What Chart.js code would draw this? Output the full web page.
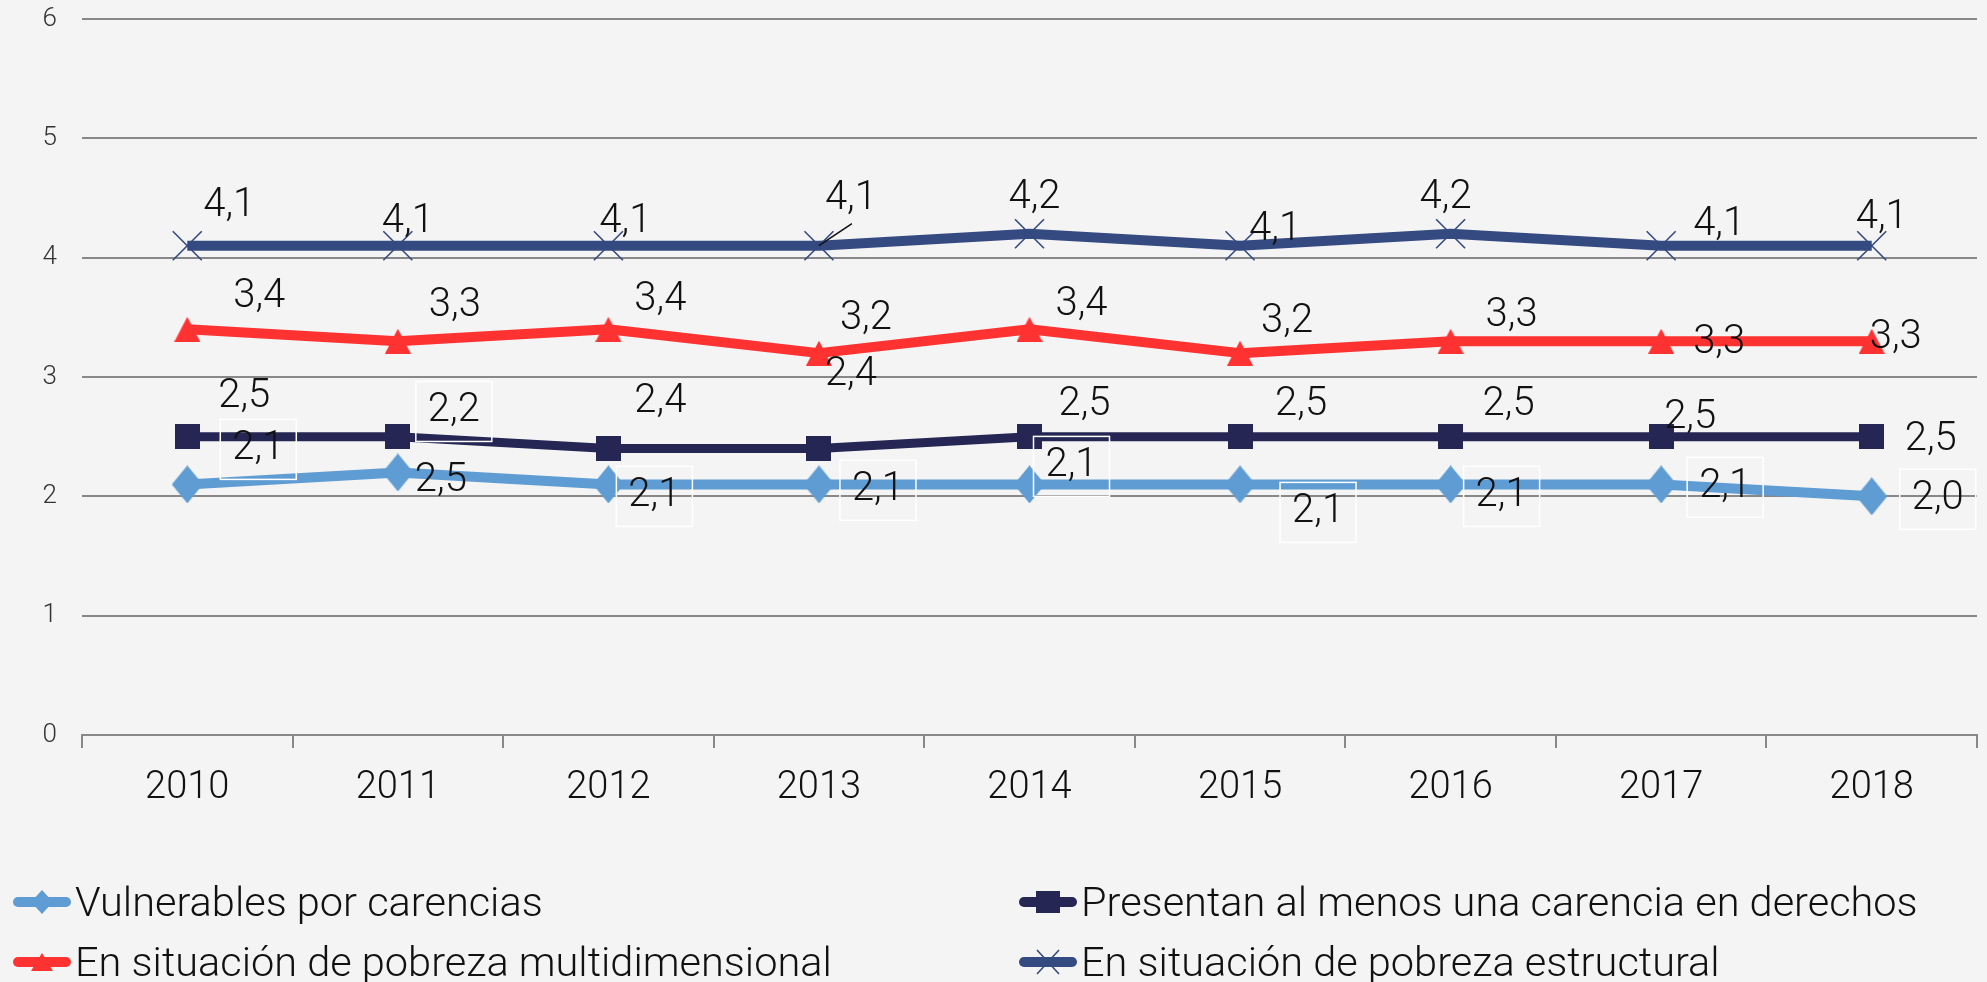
<!DOCTYPE html>
<html>
<head>
<meta charset="utf-8">
<script src="https://cdn.jsdelivr.net/npm/chart.js@4.4.1/dist/chart.umd.min.js"></script>
<style>
  html, body { margin: 0; padding: 0; background: #f4f4f4; }
  #wrap { position: relative; width: 1987px; height: 982px; }
</style>
</head>
<body>
<div id="wrap"><canvas id="chart"></canvas></div>
<script>
const years = ["2010", "2011", "2012", "2013", "2014", "2015", "2016", "2017", "2018"];
const vulnerables = [2.1, 2.2, 2.1, 2.1, 2.1, 2.1, 2.1, 2.1, 2.0];
const carenciaDerechos = [2.5, 2.5, 2.4, 2.4, 2.5, 2.5, 2.5, 2.5, 2.5];
const pobrezaMulti = [3.4, 3.3, 3.4, 3.2, 3.4, 3.2, 3.3, 3.3, 3.3];
const pobrezaEstructural = [4.1, 4.1, 4.1, 4.1, 4.2, 4.1, 4.2, 4.1, 4.1];
const seriesNames = [
  "Vulnerables por carencias",
  "Presentan al menos una carencia en derechos",
  "En situación de pobreza multidimensional",
  "En situación de pobreza estructural",
];

// where each data label sits relative to its point (px), as placed in the original
const labelShift = [
  [[71, -35], [56, -61], [46, 12], [59, 6], [42, -18], [78, 28], [51, 12], [64, 3], [66, 3]],
  [[57, -40], [43, 44], [52, -47], [32, -74], [55, -32], [61, -32], [58, -32], [29, -19], [59, 3]],
  [[72, -32], [57, -35], [52, -29], [47, -34], [52, -24], [47, -31], [61, -25], [58, 2], [24, -3]],
  [[42, -40], [10, -24], [17, -24], [32, -47], [5, -36], [35, -16], [-5, -36], [58, -21], [10, -28]],
];

const FONT = "Roboto, 'Liberation Sans', sans-serif";
const colors = ["#5e9cd3", "#252653", "#ff3232", "#344a80"];

function shape(w, h, color, draw) {
  const c = document.createElement("canvas");
  c.width = w; c.height = h;
  const g = c.getContext("2d");
  g.fillStyle = color;
  g.beginPath(); draw(g, w, h); g.closePath(); g.fill();
  return c;
}
const diamond = (w, h, col) => shape(w, h, col, (g, w, h) => { g.moveTo(w / 2, 0); g.lineTo(w, h / 2); g.lineTo(w / 2, h); g.lineTo(0, h / 2); });
const triangle = (w, h, col) => shape(w, h, col, (g, w, h) => { g.moveTo(w / 2, 0); g.lineTo(w, h); g.lineTo(0, h); });
const square = (w, h, col) => shape(w, h, col, (g, w, h) => { g.rect(0, 0, w, h); });

const fmt = (v) => v.toFixed(1).replace(".", ",");

const dataLabels = {
  id: "dataLabels",
  afterDatasetsDraw(chart) {
    const ctx = chart.ctx;
    ctx.save();
    ctx.font = "300 40px " + FONT;
    ctx.textAlign = "center";
    ctx.textBaseline = "middle";
    chart.data.datasets.forEach((ds, di) => {
      chart.getDatasetMeta(di).data.forEach((pt, i) => {
        const [dx, dy] = labelShift[di][i];
        const x = pt.x + dx, y = pt.y + dy;
        if (di === 0) {
          ctx.strokeStyle = "#ffffff";
          ctx.lineWidth = 1.5;
          ctx.strokeRect(x - 38, y - 30, 76, 60);
        }
        ctx.fillStyle = "#111111";
        ctx.fillText(fmt(ds.data[i]), x, y);
      });
    });
    // leader line for the 2013 structural label
    const p = chart.getDatasetMeta(3).data[3];
    const [lx, ly] = labelShift[3][3];
    ctx.strokeStyle = "#111111";
    ctx.lineWidth = 1.5;
    ctx.beginPath();
    ctx.moveTo(p.x, p.y);
    ctx.lineTo(p.x + lx + 1, p.y + ly + 25);
    ctx.stroke();
    ctx.restore();
  },
};

// legend drawn as a 2x2 grid like the original
const gridLegend = {
  id: "gridLegend",
  afterDraw(chart) {
    const ctx = chart.ctx;
    const cols = [13, 1019], rows = [902, 962];
    const marks = [diamond(22, 24, colors[0]), square(24, 22, colors[1]), triangle(22, 18, colors[2]), null];
    ctx.save();
    chart.data.datasets.forEach((ds, i) => {
      const x = cols[i % 2], y = rows[Math.floor(i / 2)];
      ctx.strokeStyle = colors[i];
      ctx.lineWidth = 10;
      ctx.lineCap = "round";
      ctx.beginPath();
      ctx.moveTo(x + 5, y); ctx.lineTo(x + 53, y);
      ctx.stroke();
      const mx = x + 29;
      if (marks[i]) {
        ctx.drawImage(marks[i], mx - marks[i].width / 2, y - marks[i].height / 2);
      } else {
        ctx.lineWidth = 1.6;
        ctx.lineCap = "butt";
        ctx.beginPath();
        ctx.moveTo(mx - 11, y - 12); ctx.lineTo(mx + 11, y + 12);
        ctx.moveTo(mx + 11, y - 12); ctx.lineTo(mx - 11, y + 12);
        ctx.stroke();
      }
      ctx.fillStyle = "#111111";
      ctx.font = "300 41.5px " + FONT;
      ctx.textAlign = "left";
      ctx.textBaseline = "alphabetic";
      ctx.fillText(seriesNames[i], x + 62, y + 14);
    });
    ctx.restore();
  },
};

const datasets = [
  {
    label: seriesNames[0], data: vulnerables,
    borderColor: colors[0], backgroundColor: colors[0], borderWidth: 10,
    pointStyle: diamond(31, 38, colors[0]), pointRadius: 16,
  },
  {
    label: seriesNames[1], data: carenciaDerechos,
    borderColor: colors[1], backgroundColor: colors[1], borderWidth: 9,
    pointStyle: square(25, 25, colors[1]), pointRadius: 13,
  },
  {
    label: seriesNames[2], data: pobrezaMulti,
    borderColor: colors[2], backgroundColor: colors[2], borderWidth: 10,
    pointStyle: triangle(26, 25, colors[2]), pointRadius: 13,
  },
  {
    label: seriesNames[3], data: pobrezaEstructural,
    borderColor: colors[3], backgroundColor: colors[3], borderWidth: 10,
    pointStyle: "crossRot", pointRadius: 20.5, pointBorderWidth: 1.6, pointBorderColor: colors[3],
  },
].map((d) => ({ ...d, borderJoinStyle: "round", tension: 0, fill: false }));

new Chart(document.getElementById("chart"), {
  type: "line",
  data: { labels: years, datasets },
  options: {
    responsive: true,
    maintainAspectRatio: false,
    animation: false,
    devicePixelRatio: 1,
    layout: { autoPadding: false, padding: { top: 19, right: 10, left: 0, bottom: 0 } },
    plugins: { legend: { display: false }, tooltip: { enabled: false } },
    scales: {
      x: {
        offset: true,
        grid: { offset: true, drawOnChartArea: false, drawTicks: true, tickLength: 13, color: "#888888", lineWidth: 2 },
        border: { display: true, color: "#888888", width: 2 },
        ticks: { color: "#111111", font: { family: FONT, size: 38, weight: 300 }, padding: 18, maxRotation: 0, autoSkip: false },
        afterFit(scale) { scale.height = 247; },
      },
      y: {
        min: 0,
        max: 6,
        ticks: { stepSize: 1, color: "#333333", font: { family: FONT, size: 26, weight: 300 }, padding: 25 },
        grid: { color: "#888888", lineWidth: 2, drawTicks: false },
        border: { display: false },
        afterFit(scale) { scale.width = 82; scale.paddingTop = 0; scale.paddingBottom = 0; },
      },
    },
  },
  plugins: [dataLabels, gridLegend],
});
</script>
</body>
</html>
